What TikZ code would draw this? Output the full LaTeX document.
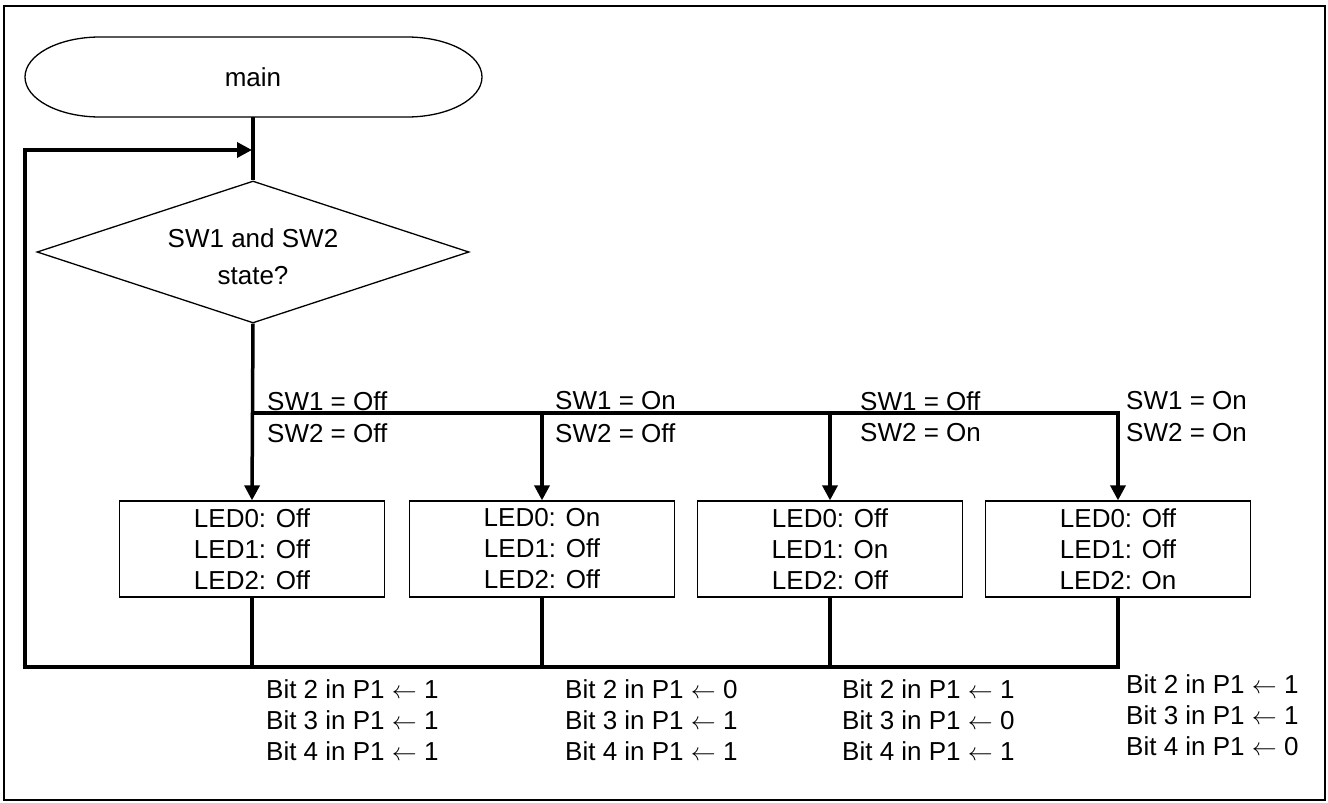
\documentclass[tikz,border=0pt]{standalone}
\usepackage{fontspec}
\setmainfont{Liberation Sans}
\usetikzlibrary{arrows.meta,shapes.geometric}
\begin{document}
\begin{tikzpicture}[x=1pt,y=-1pt,
  every node/.style={font=\fontsize{26}{31}\selectfont},
  thinline/.style={line width=1.3pt},
  flow/.style={line width=3.5pt},
  arr/.style={flow,-{Triangle[length=15pt,width=15pt]}},
  box/.style={draw,line width=1.3pt,minimum width=265pt,minimum height=96pt,align=center,inner sep=0pt},
  dia/.style={draw,shape=diamond,aspect=3.04,line width=1.3pt,minimum width=432pt,minimum height=142pt,inner sep=0pt},
  lbl/.style={anchor=west,inner sep=0pt},
  bits/.style={anchor=west,inner sep=0pt,align=left}
]
\useasboundingbox (0,0) rectangle (1328,803);
\draw[line width=1.5pt] (4,6) rectangle (1325,800);

% terminal
\draw[thinline] (100,37) -- (407,37) arc[start angle=90,end angle=-90,x radius=75pt,y radius=40pt]
  -- (100,117) arc[start angle=270,end angle=90,x radius=75pt,y radius=40pt] -- cycle;
\node (main) at (253,77) {main};
\coordinate (mainb) at (253,117);

% decision
\node[dia] (dec) at (253,252) {};
\node[align=center,inner sep=0pt,font=\fontsize{26}{37}\selectfont] (dect) at ([yshift=-5pt]dec.center) {SW1 and SW2\\state?};

% boxes
\node[box] (b1) at (252,549) {LED0: Off\\LED1: Off\\LED2: Off};
\node[box] (b2) at (542,549) {LED0: On\\LED1: Off\\LED2: Off};
\node[box] (b3) at (830,549) {LED0: Off\\LED1: On\\LED2: Off};
\node[box] (b4) at (1118,549) {LED0: Off\\LED1: Off\\LED2: On};

% coordinates
\coordinate (j) at (252,150);
\coordinate (loopT) at (25,150);
\coordinate (retL) at (25,667);
\coordinate (bus0) at (253,413);
\coordinate (bus1) at (542,413);
\coordinate (bus2) at (830,413);
\coordinate (bus3) at (1118,413);
\coordinate (ret1) at (252,667);
\coordinate (ret2) at (542,667);
\coordinate (ret3) at (830,667);
\coordinate (ret4) at (1118,667);

% connectors
\draw[flow] (mainb) -- (dec.north);
\draw[arr] (dec.south) -- (b1.north);
\draw[arr] (bus0) -- (bus3) -- (b4.north);
\draw[arr] (bus1) -- (b2.north);
\draw[arr] (bus2) -- (b3.north);
\draw[flow] (b1.south) -- (ret1);
\draw[flow] (b2.south) -- (ret2);
\draw[flow] (b3.south) -- (ret3);
\draw[arr] (b4.south) -- (ret4) -- (retL) -- (loopT) -- (j);

% branch labels
\node[lbl] (l1a) at (267,401) {SW1 = Off};
\node[lbl] (l1b) at (267,433) {SW2 = Off};
\node[lbl] (l2a) at (555,401) {SW1 = On};
\node[lbl] (l2b) at (555,433) {SW2 = Off};
\node[lbl] (l3a) at (860,401) {SW1 = Off};
\node[lbl] (l3b) at (860,433) {SW2 = On};
\node[lbl] (l4a) at (1126,401) {SW1 = On};
\node[lbl] (l4b) at (1126,433) {SW2 = On};

% bit assignments
\node[bits] (t1) at (266,720) {Bit 2 in P1 $\leftarrow$ 1\\Bit 3 in P1 $\leftarrow$ 1\\Bit 4 in P1 $\leftarrow$ 1};
\node[bits] (t2) at (565,720) {Bit 2 in P1 $\leftarrow$ 0\\Bit 3 in P1 $\leftarrow$ 1\\Bit 4 in P1 $\leftarrow$ 1};
\node[bits] (t3) at (842,720) {Bit 2 in P1 $\leftarrow$ 1\\Bit 3 in P1 $\leftarrow$ 0\\Bit 4 in P1 $\leftarrow$ 1};
\node[bits] (t4) at (1126,715) {Bit 2 in P1 $\leftarrow$ 1\\Bit 3 in P1 $\leftarrow$ 1\\Bit 4 in P1 $\leftarrow$ 0};
\end{tikzpicture}
\end{document}
